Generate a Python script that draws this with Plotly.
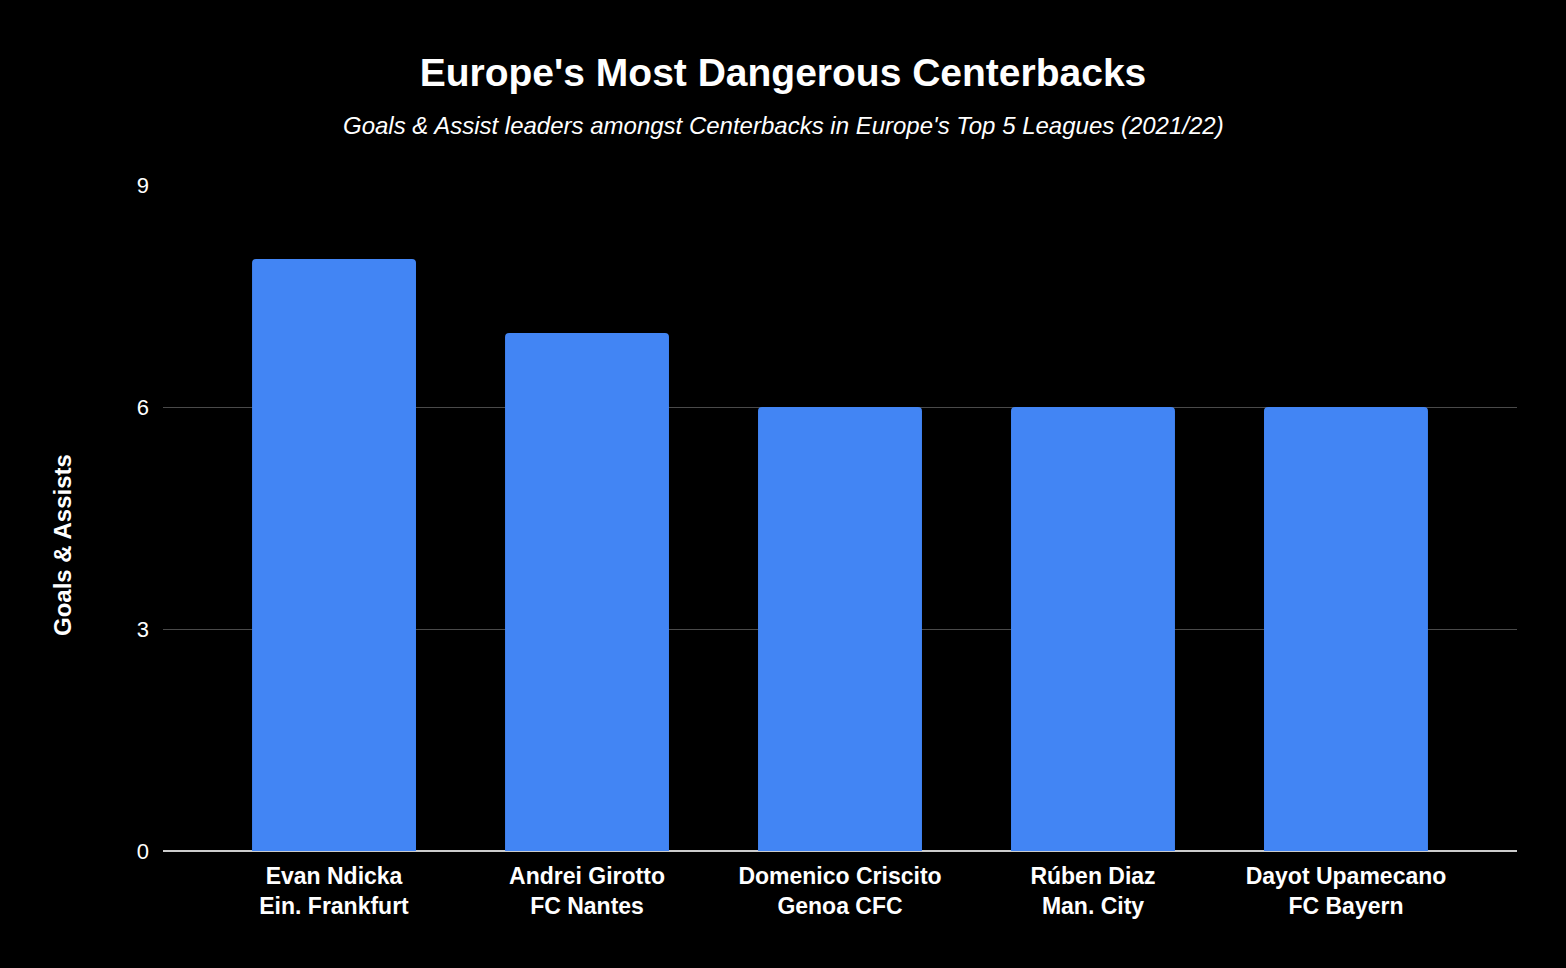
import plotly.graph_objects as go

players = ["Evan Ndicka", "Andrei Girotto", "Domenico Criscito", "Rúben Diaz", "Dayot Upamecano"]
clubs = ["Ein. Frankfurt", "FC Nantes", "Genoa CFC", "Man. City", "FC Bayern"]
goals_assists = [8, 7, 6, 6, 6]
y_ticks = [0, 3, 6, 9]

labels = [f"<b>{p}<br>{c}</b>" for p, c in zip(players, clubs)]
font = "Liberation Sans, Arial, sans-serif"

fig = go.Figure(go.Bar(
    x=labels, y=goals_assists,
    marker=dict(color="#4285F4", cornerradius=4, line=dict(width=0)),
    width=0.648,
))

W, H = 1566, 968
ml, mr, mt, mb = 163, 49, 185, 117
fig.update_layout(
    width=W, height=H,
    paper_bgcolor="#000000", plot_bgcolor="#000000",
    margin=dict(l=ml, r=mr, t=mt, b=mb),
    showlegend=False,
    title=dict(text="<b>Europe's Most Dangerous Centerbacks</b>", x=0.5, xanchor="center",
               y=1 - 72 / H, yanchor="middle", font=dict(family=font, size=39, color="#ffffff")),
    xaxis=dict(range=[-0.676, 4.676], showgrid=False, tickfont=dict(family=font, size=23, color="#ffffff"),
               ticks="", showline=False, zeroline=False, ticklabelstandoff=9),
    yaxis=dict(range=[0, 9], tickvals=y_ticks, showgrid=True, gridcolor="#4a4a4a", gridwidth=1,
               zeroline=True, zerolinecolor="#cccccc", zerolinewidth=2,
               tickfont=dict(family=font, size=22, color="#ffffff"), ticks="", ticklabelstandoff=13),
    annotations=[
        dict(text="<i>Goals & Assist leaders amongst Centerbacks in Europe's Top 5 Leagues (2021/22)</i>",
             xref="paper", yref="paper", x=(W / 2 - ml) / (W - ml - mr), y=(H - 125 - mb) / (H - mt - mb),
             xanchor="center", yanchor="middle", showarrow=False,
             font=dict(family=font, size=24, color="#ffffff")),
        dict(text="<b>Goals & Assists</b>", textangle=-90,
             xref="paper", yref="paper", x=(62 - ml) / (W - ml - mr), y=(H - 545 - mb) / (H - mt - mb),
             xanchor="center", yanchor="middle", showarrow=False,
             font=dict(family=font, size=24, color="#ffffff")),
    ],
)
fig.write_html("out.html", config={"displayModeBar": False},
               post_script="document.body.style.margin='0';document.body.style.background='#000';")
